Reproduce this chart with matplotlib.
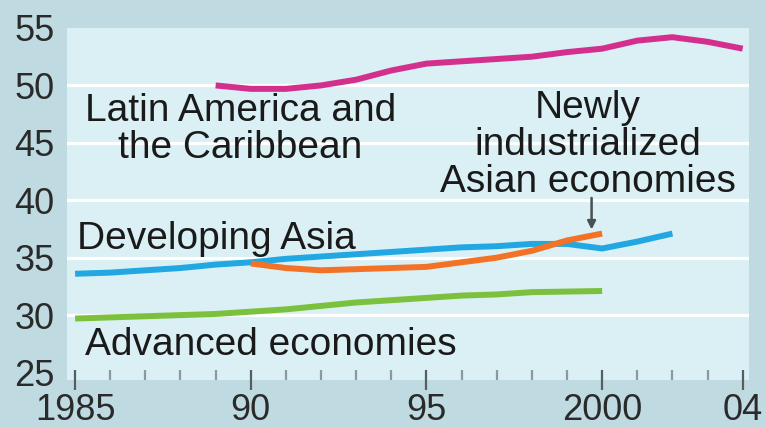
import matplotlib
matplotlib.use("Agg")
import matplotlib.pyplot as plt
from matplotlib.ticker import MultipleLocator, FixedLocator

plt.rcParams['font.family'] = ['Liberation Sans', 'DejaVu Sans']

# ---- data ----
years_la = list(range(1989, 2005))
latin_america = [50.0, 49.7, 49.7, 50.0, 50.5, 51.3, 51.9, 52.1, 52.3, 52.5, 52.9, 53.2, 53.9, 54.2, 53.8, 53.2]

years_da = list(range(1985, 2003))
developing_asia = [33.6, 33.7, 33.9, 34.1, 34.4, 34.6, 34.9, 35.1, 35.3, 35.5, 35.7, 35.9, 36.0, 36.2, 36.2, 35.8, 36.4, 37.1]

years_nie = list(range(1990, 2001))
newly_industrialized = [34.5, 34.1, 33.9, 34.0, 34.1, 34.2, 34.6, 35.0, 35.6, 36.5, 37.1]

years_adv = list(range(1985, 2001))
advanced = [29.7, 29.8, 29.9, 30.0, 30.1, 30.3, 30.5, 30.8, 31.1, 31.3, 31.5, 31.7, 31.8, 32.0, 32.05, 32.1]

y_ticks = [25, 30, 35, 40, 45, 50, 55]
x_major = [1985, 1990, 1995, 2000, 2004]
x_labels = ["1985", "90", "95", "2000", "04"]

# ---- styling ----
OUTER = '#bfdbe1'
INNER = '#daf0f5'
C_LA = '#d3308e'
C_DA = '#21a7e1'
C_NIE = '#f37226'
C_ADV = '#7cc13e'
TXT = '#1a1a1a'

W, H = 766, 428
fig = plt.figure(figsize=(W / 100, H / 100), dpi=100)
fig.patch.set_facecolor(OUTER)
ax = fig.add_axes([67 / W, (H - 380) / H, (749 - 67) / W, (380 - 28) / H])
ax.set_facecolor(INNER)
for s in ax.spines.values():
    s.set_visible(False)

ax.set_xlim(1984.77, 2004.18)
ax.set_ylim(24.35, 54.96)

for g in [30, 35, 40, 45, 50]:
    ax.axhline(g, color='white', lw=2.3, zorder=1)

lw = 4.3
ax.plot(years_la, latin_america, color=C_LA, lw=lw, zorder=3, solid_capstyle='butt')
ax.plot(years_da, developing_asia, color=C_DA, lw=lw, zorder=3, solid_capstyle='butt')
ax.plot(years_nie, newly_industrialized, color=C_NIE, lw=lw, zorder=4, solid_capstyle='butt')
ax.plot(years_adv, advanced, color=C_ADV, lw=lw, zorder=3, solid_capstyle='butt')

# ticks
ax.set_yticks(y_ticks)
ax.set_yticklabels([str(v) for v in y_ticks])
ax.tick_params(axis='y', length=0, pad=9, labelsize=26, labelcolor='#2a2a2a')

ax.xaxis.set_major_locator(FixedLocator(x_major))
ax.set_xticklabels(x_labels)
ax.xaxis.set_minor_locator(MultipleLocator(1))
ax.tick_params(axis='x', which='major', direction='inout', length=14, width=1.6,
               color='#555f62', pad=2.5, labelsize=26, labelcolor='#2a2a2a')
ax.tick_params(axis='x', which='minor', direction='in', length=7, width=1.6,
               color='#8a9a9e')

fs = 28
ls = 1.04
ax.text(1989.70, 43.65, "Latin America and\nthe Caribbean", ha='center', va='baseline',
        multialignment='center', fontsize=fs, color=TXT, zorder=5, linespacing=ls)
ax.text(1999.60, 40.70, "Newly\nindustrialized\nAsian economies", ha='center', va='baseline',
        multialignment='center', fontsize=fs, color=TXT, zorder=5, linespacing=ls)
ax.text(1985.06, 35.75, "Developing Asia", ha='left', va='baseline',
        fontsize=fs, color=TXT, zorder=5)
ax.text(1985.28, 26.52, "Advanced economies", ha='left', va='baseline',
        fontsize=fs, color=TXT, zorder=5)

# arrow to the end of the NIE series
ax.annotate("", xy=(years_nie[-1] - 0.3, newly_industrialized[-1] + 0.35),
            xytext=(years_nie[-1] - 0.3, 40.2),
            arrowprops=dict(arrowstyle='-|>', color='#4a4f52', lw=1.8, mutation_scale=12,
                            shrinkA=0, shrinkB=0), zorder=6)

fig.savefig("out.png", dpi=100, facecolor=OUTER)
